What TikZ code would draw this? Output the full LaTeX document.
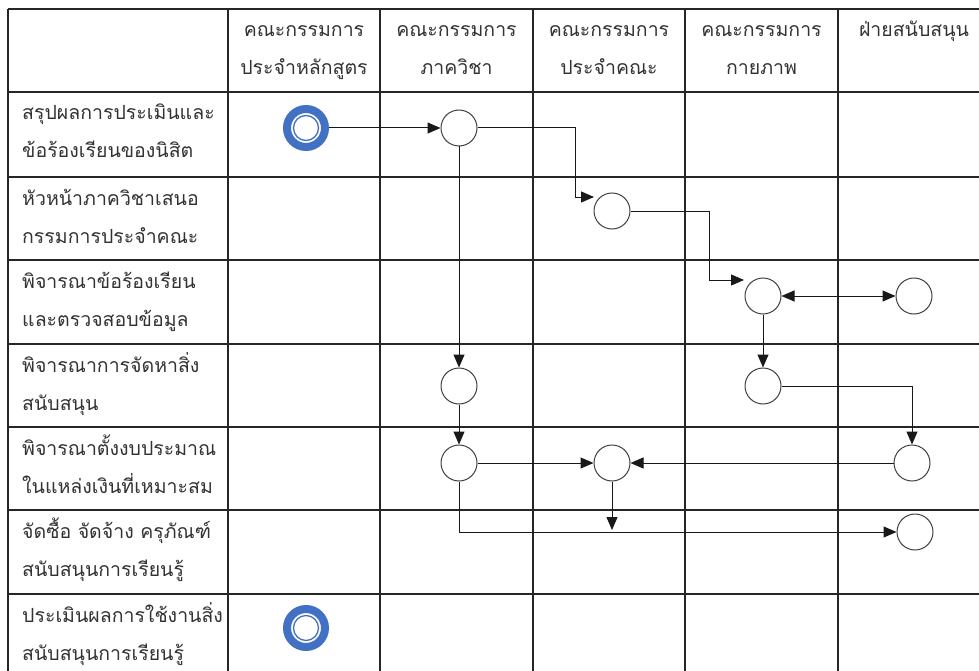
\documentclass[tikz,border=0pt]{standalone}
\usepackage{fontspec}
\newfontfamily\thaifont[Script=Thai]{Loma}
\usetikzlibrary{arrows.meta}
\definecolor{evblue}{RGB}{66,112,196}
\begin{document}
\begin{tikzpicture}[x=1pt,y=-1pt,
  gridline/.style={line width=1.3pt, draw=black!85},
  proc/.style={circle, draw=black!75, line width=1pt, minimum size=36pt, inner sep=0pt, fill=white},
  startev/.style={circle, draw=evblue, line width=8pt, minimum size=38pt, inner sep=0pt, fill=white},
  arr/.style={line width=1pt, draw=black!90, -{Triangle[length=13pt,width=11pt]}},
  darr/.style={line width=1pt, draw=black!90, {Triangle[length=13pt,width=11pt]}-{Triangle[length=13pt,width=11pt]}},
  lbl/.style={font=\thaifont\fontsize{19.5}{22}\selectfont, text=black!80, inner sep=0pt, anchor=base west},
  hdr/.style={font=\thaifont\fontsize{19.5}{22}\selectfont, text=black!80, inner sep=0pt, anchor=base},
]
\useasboundingbox (0,0) rectangle (979,671);
\clip (0,0) rectangle (979,671);
\fill[white] (0,0) rectangle (979,671);
% grid
\foreach \yy in {9,92,177,260,344,427,510,594}
  \draw[gridline] (8,\yy) -- (995,\yy);
\foreach \xx in {8,228,380,533,685,838}
  \draw[gridline] (\xx,9) -- (\xx,690);
% header
\node[hdr] (h2a) at (304,37) {คณะกรรมการ};
\node[hdr] (h2b) at (304,75) {ประจำหลักสูตร};
\node[hdr] (h3a) at (456.5,37) {คณะกรรมการ};
\node[hdr] (h3b) at (456.5,75) {ภาควิชา};
\node[hdr] (h4a) at (609,37) {คณะกรรมการ};
\node[hdr] (h4b) at (609,75) {ประจำคณะ};
\node[hdr] (h5a) at (761.5,37) {คณะกรรมการ};
\node[hdr] (h5b) at (761.5,75) {กายภาพ};
\node[hdr] (h6a) at (914,37) {ฝ่ายสนับสนุน};
% row labels
\node[lbl] (r1a) at (22,120) {สรุปผลการประเมินและ};
\node[lbl] (r1b) at (22,158) {ข้อร้องเรียนของนิสิต};
\node[lbl] (r2a) at (22,205) {หัวหน้าภาควิชาเสนอ};
\node[lbl] (r2b) at (22,243) {กรรมการประจำคณะ};
\node[lbl] (r3a) at (22,288) {พิจารณาข้อร้องเรียน};
\node[lbl] (r3b) at (22,326) {และตรวจสอบข้อมูล};
\node[lbl] (r4a) at (22,372) {พิจารณาการจัดหาสิ่ง};
\node[lbl] (r4b) at (22,410) {สนับสนุน};
\node[lbl] (r5a) at (22,455) {พิจารณาตั้งงบประมาณ};
\node[lbl] (r5b) at (22,493) {ในแหล่งเงินที่เหมาะสม};
\node[lbl] (r6a) at (22,538) {จัดซื้อ จัดจ้าง ครุภัณฑ์};
\node[lbl] (r6b) at (22,576) {สนับสนุนการเรียนรู้};
\node[lbl] (r7a) at (22,622) {ประเมินผลการใช้งานสิ่ง};
\node[lbl] (r7b) at (22,660) {สนับสนุนการเรียนรู้};
% events
\node[startev] (s) at (306,128) {};
\draw[evblue, line width=1.3pt] (s.center) circle (12.5);
\node[startev] (t) at (306,628) {};
\draw[evblue, line width=1.3pt] (t.center) circle (12.5);
% process circles
\node[proc] (a) at (459,128) {};
\node[proc] (b) at (612,211) {};
\node[proc] (c) at (763,296) {};
\node[proc] (d) at (914,296) {};
\node[proc] (e) at (763,386) {};
\node[proc] (j) at (459,386) {};
\node[proc] (g) at (459,463) {};
\node[proc] (h) at (612,463) {};
\node[proc] (f) at (912,463) {};
\node[proc] (i) at (915,532) {};
\coordinate (bin) at (594,197);
\coordinate (cin) at (744,280);
\coordinate (hdown) at (612,530);
% connectors
\draw[arr] (s.east) -- (a.west);
\draw[arr] (a.east) -- ++(98,0) |- (bin);
\draw[arr] (b.east) -- ++(79,0) |- (cin);
\draw[darr] (c.east) -- (d.west);
\draw[arr] (c.south) -- (e.north);
\draw[arr] (e.east) -| (f.north);
\draw[arr] (a.south) -- (j.north);
\draw[arr] (j.south) -- (g.north);
\draw[arr] (g.east) -- (h.west);
\draw[arr] (f.west) -- (h.east);
\draw[arr] (h.south) -- (hdown);
\draw[arr] (g.south) |- (i.west);
\end{tikzpicture}
\end{document}
